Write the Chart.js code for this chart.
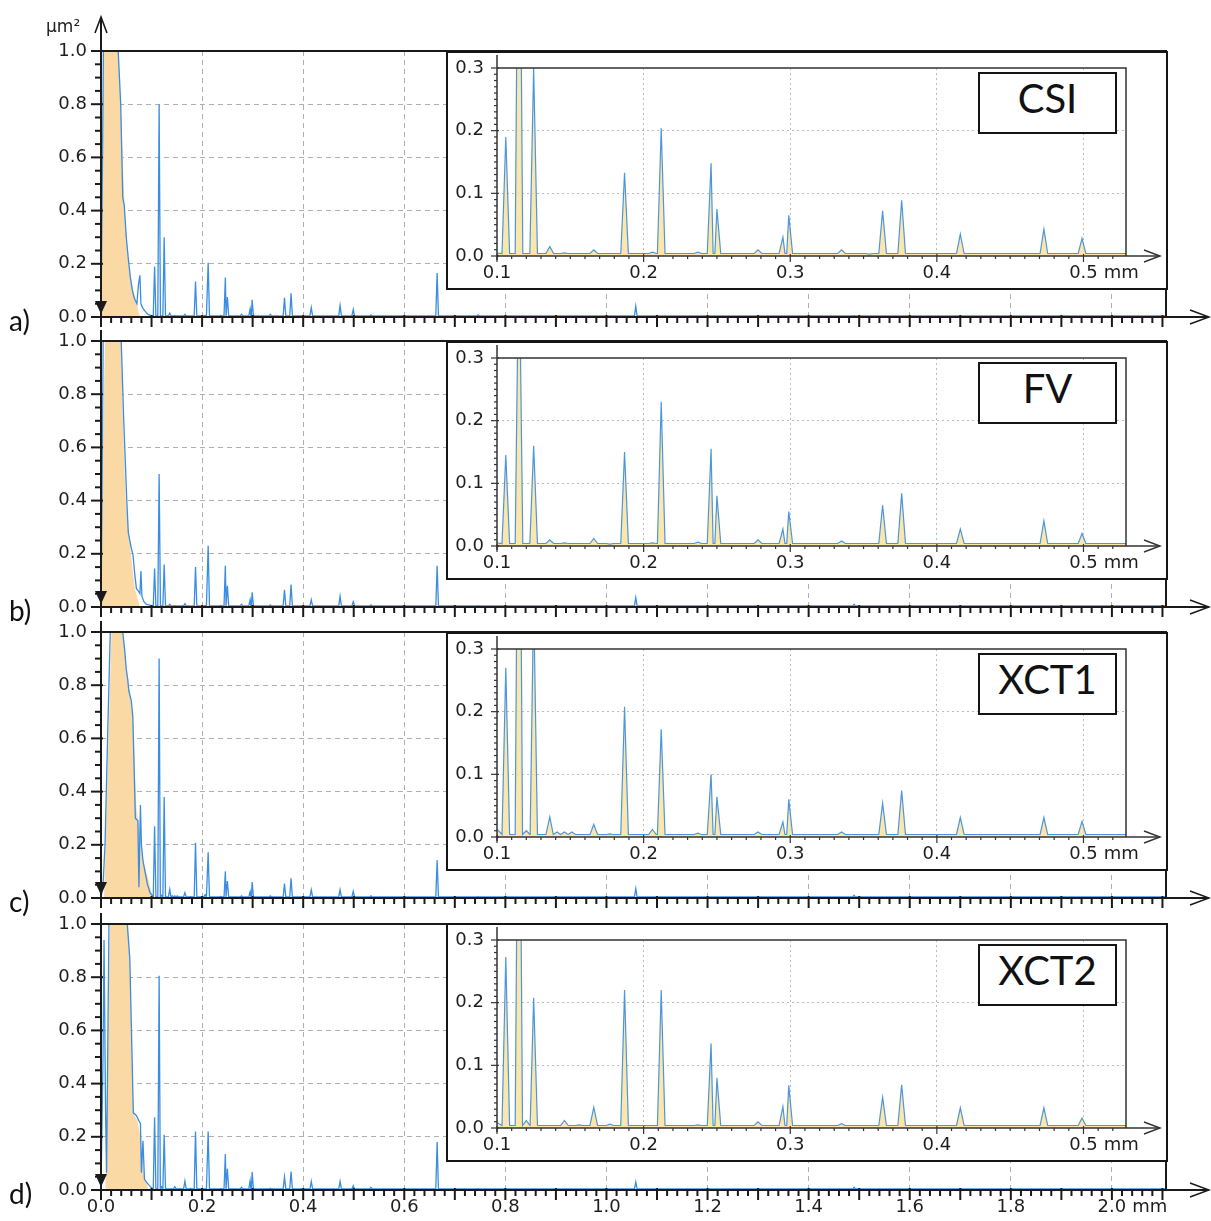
<!DOCTYPE html>
<html>
<head>
<meta charset="utf-8">
<script src="https://cdn.jsdelivr.net/npm/chart.js@4.4.0/dist/chart.umd.min.js"></script>
<style>
  body { margin: 0; background: #fff; width: 1211px; height: 1221px; position: relative; overflow: hidden; }
  .abs { position: absolute; }
  .inset { position: absolute; background: #fff; border: 2px solid #151515; box-sizing: border-box; width: 722px; height: 239px; }
  .inset canvas { display: block; }
  .tag { position: absolute; font: 28px Lato, sans-serif; color: #111; }
  .name { position: absolute; border: 2px solid #151515; background: #fff; box-sizing: border-box;
          width: 139px; height: 62px; line-height: 58px; text-align: center; font: 40px Lato, sans-serif; color: #111; }
  .unit { position: absolute; font: 17px "DejaVu Sans", sans-serif; color: #222; }
</style>
</head>
<body>
<script>
// spectrum peaks (mm) shared by all four measurements, heights in µm²
const peakPos = [0.106, 0.115, 0.120, 0.125, 0.136, 0.141, 0.146, 0.151, 0.156, 0.166, 0.177,
  0.187, 0.196, 0.206, 0.212, 0.237, 0.246, 0.250, 0.278, 0.295, 0.299, 0.335, 0.354, 0.363,
  0.376, 0.416, 0.473, 0.499, 0.534, 0.665, 0.746, 1.058, 1.490];

const csiPeaks = [0.19, 0.80, 0, 0.30, 0.015, 0, 0.005, 0, 0, 0.010, 0, 0.133, 0, 0.006, 0.204,
  0.006, 0.148, 0.075, 0.010, 0.030, 0.065, 0.010, 0.003, 0.072, 0.089, 0.035, 0.043, 0.028,
  0.008, 0.165, 0.008, 0.040, 0.005];
const fvPeaks = [0.145, 0.50, 0, 0.16, 0.010, 0, 0.005, 0, 0, 0.012, 0.003, 0.150, 0, 0.005, 0.230,
  0.006, 0.155, 0.080, 0.010, 0.027, 0.055, 0.008, 0, 0.065, 0.084, 0.027, 0.040, 0.020,
  0.008, 0.155, 0.005, 0.035, 0.010];
const xct1Peaks = [0.27, 0.90, 0.010, 0.38, 0.032, 0.008, 0.008, 0.008, 0, 0.020, 0.005, 0.208, 0,
  0.012, 0.172, 0.006, 0.100, 0.064, 0.008, 0.024, 0.060, 0.008, 0, 0.054, 0.074, 0.031, 0.031,
  0.025, 0.008, 0.143, 0.005, 0.035, 0.010];
const xct2Peaks = [0.273, 0.805, 0.012, 0.208, 0.004, 0, 0.012, 0, 0.005, 0.033, 0.006, 0.220,
  0.004, 0.004, 0.220, 0.005, 0.135, 0.080, 0.010, 0.034, 0.068, 0.007, 0, 0.049, 0.069, 0.032,
  0.032, 0.016, 0.010, 0.180, 0.005, 0.030, 0.010];

// long-wavelength part below 0.1 mm (blue trace)
const csiHumpX = [0, 0.003, 0.006, 0.020, 0.034, 0.039, 0.043, 0.046, 0.050, 0.054, 0.058, 0.062,
  0.066, 0.071, 0.074, 0.077, 0.079, 0.081, 0.084, 0.088, 0.093, 0.099];
const csiHumpY = [0, 0.6, 1.3, 1.6, 1.0, 0.80, 0.45, 0.42, 0.30, 0.22, 0.15, 0.10,
  0.07, 0.05, 0.12, 0.157, 0.05, 0.04, 0.03, 0.02, 0.01, 0.005];
const fvHumpX = [0, 0.002, 0.005, 0.020, 0.040, 0.045, 0.051, 0.054, 0.056, 0.060, 0.063, 0.067,
  0.070, 0.074, 0.077, 0.079, 0.081, 0.085, 0.090, 0.095, 0.099];
const fvHumpY = [0, 0.4, 1.2, 1.6, 1.0, 0.70, 0.40, 0.28, 0.26, 0.22, 0.20, 0.12,
  0.07, 0.06, 0.05, 0.135, 0.04, 0.02, 0.01, 0.008, 0.005];
const xct1HumpX = [0, 0.004, 0.008, 0.013, 0.019, 0.030, 0.043, 0.047, 0.050, 0.053, 0.055, 0.060,
  0.063, 0.068, 0.073, 0.075, 0.078, 0.080, 0.083, 0.088, 0.092, 0.097];
const xct1HumpY = [0, 0.05, 0.2, 0.6, 1.05, 1.5, 1.0, 0.93, 0.86, 0.82, 0.78, 0.74,
  0.68, 0.30, 0.29, 0.04, 0.35, 0.20, 0.14, 0.09, 0.05, 0.02];
const xct2HumpX = [0, 0.004, 0.006, 0.009, 0.011, 0.016, 0.030, 0.052, 0.057, 0.064, 0.070, 0.075,
  0.078, 0.080, 0.083, 0.086, 0.090, 0.094, 0.099];
const xct2HumpY = [0, 0.5, 0.94, 0.3, 0.065, 1.05, 1.5, 1.0, 0.87, 0.29, 0.28, 0.26,
  0.25, 0.065, 0.185, 0.04, 0.03, 0.02, 0.01];

// shaded envelope of the hump (orange area)
const csiFillX = [0, 0.003, 0.005, 0.034, 0.039, 0.047, 0.054, 0.064, 0.077];
const csiFillY = [0, 0.6, 1.02, 1.02, 0.80, 0.40, 0.20, 0.10, 0];
const fvFillX = [0, 0.003, 0.008, 0.040, 0.042, 0.045, 0.049, 0.059, 0.067, 0.077];
const fvFillY = [0, 0.5, 1.02, 1.02, 0.80, 0.60, 0.40, 0.20, 0.07, 0];
const xct1FillX = [0, 0.006, 0.021, 0.043, 0.050, 0.063, 0.070, 0.084, 0.103];
const xct1FillY = [0, 0, 1.02, 1.02, 0.86, 0.68, 0.34, 0.14, 0];
const xct2FillX = [0, 0.009, 0.011, 0.018, 0.052, 0.057, 0.064, 0.072, 0.078, 0.085, 0.094];
const xct2FillY = [0, 0, 0.3, 1.02, 1.02, 0.87, 0.29, 0.26, 0.20, 0.06, 0];

const floorLevel = 0.004;   // noise floor between peaks

const panelTags = ["a)", "b)", "c)", "d)"];
const panelNames = ["CSI", "FV", "XCT1", "XCT2"];
const mainXTicks = [0, 0.2, 0.4, 0.6, 0.8, 1.0, 1.2, 1.4, 1.6, 1.8, 2.0];
const mainYTicks = [0, 0.2, 0.4, 0.6, 0.8, 1.0];
const insetXTicks = [0.1, 0.2, 0.3, 0.4, 0.5];
const insetYTicks = [0, 0.1, 0.2, 0.3];

const X_MAX = 2.107, INSET_MIN = 0.1, INSET_MAX = 0.529, HALF = 0.0026;
const mainTops = [51, 341, 632, 924];
const insetTops = [51, 341, 632, 923];

const humps = [[csiHumpX, csiHumpY], [fvHumpX, fvHumpY], [xct1HumpX, xct1HumpY], [xct2HumpX, xct2HumpY]];
const fills = [[csiFillX, csiFillY], [fvFillX, fvFillY], [xct1FillX, xct1FillY], [xct2FillX, xct2FillY]];
const peaks = [csiPeaks, fvPeaks, xct1Peaks, xct2Peaks];

function buildSeries(hx, hy, heights) {
  const pts = hx.map((x, i) => ({ x, y: hy[i] }));
  peakPos.forEach((p, i) => {
    if (!heights[i]) return;
    pts.push({ x: p - HALF, y: floorLevel }, { x: p, y: heights[i] }, { x: p + HALF, y: floorLevel });
  });
  pts.push({ x: X_MAX, y: floorLevel });
  return pts.sort((a, b) => a.x - b.x);
}

const tickFont = { family: "DejaVu Sans", size: 18 };
const tickColor = "#1e1e1e";
const fmt = v => Number(v).toFixed(1);

// axes, arrows, frame and tick marks drawn through the chart scales
const deco = {
  id: "deco",
  afterDatasetsDraw(chart, args, o) {
    const { ctx, chartArea: a, scales: { x, y } } = chart;
    ctx.save();
    ctx.strokeStyle = o.color;
    ctx.fillStyle = o.color;

    ctx.lineWidth = o.frameWidth;
    ctx.beginPath();
    ctx.moveTo(a.left, a.top); ctx.lineTo(a.right, a.top); ctx.lineTo(a.right, a.bottom);
    ctx.stroke();

    ctx.lineWidth = o.axisWidth;
    ctx.beginPath();
    ctx.moveTo(a.left, a.bottom + 4); ctx.lineTo(a.left, o.axisTop);
    ctx.moveTo(a.left, a.bottom); ctx.lineTo(o.xEnd, a.bottom);
    ctx.stroke();

    ctx.lineWidth = o.arrowWidth;
    ctx.beginPath();
    ctx.moveTo(o.xEnd - o.arrowLen, a.bottom - o.arrowHalf);
    ctx.lineTo(o.xEnd, a.bottom);
    ctx.lineTo(o.xEnd - o.arrowLen, a.bottom + o.arrowHalf);
    if (o.arrowUp) {
      ctx.moveTo(a.left - 6, o.axisTop + 16);
      ctx.lineTo(a.left, o.axisTop);
      ctx.lineTo(a.left + 6, o.axisTop + 16);
    }
    ctx.stroke();

    if (o.marker) {
      ctx.beginPath();
      ctx.moveTo(a.left - 6, a.bottom - 16);
      ctx.lineTo(a.left + 6, a.bottom - 16);
      ctx.lineTo(a.left, a.bottom - 3);
      ctx.closePath();
      ctx.fill();
    }

    ctx.lineWidth = o.tickWidth;
    const ny = Math.round((y.max - y.min) / o.stepY);
    for (let i = 0; i <= ny; i++) {
      const py = y.getPixelForValue(y.min + i * o.stepY);
      const major = i % o.majorY === 0;
      ctx.beginPath();
      ctx.moveTo(a.left - (major ? o.majLen : o.minLen), py);
      ctx.lineTo(a.left + (major ? 2 : 0), py);
      ctx.stroke();
    }
    const nx = Math.floor((x.max - x.min) / o.stepX + 1e-6);
    for (let i = 0; i <= nx; i++) {
      const px = x.getPixelForValue(x.min + i * o.stepX);
      const major = i % o.majorX === 0;
      ctx.beginPath();
      ctx.moveTo(px, a.bottom - (major ? 2 : 0));
      ctx.lineTo(px, a.bottom + (major ? o.majLen : o.minLen));
      ctx.stroke();
    }

    if (o.unit) {
      const items = x.getLabelItems();
      const it = items[items.length - 1];
      if (it) {
        ctx.font = `${tickFont.size}px "${tickFont.family}"`;
        ctx.fillStyle = tickColor;
        ctx.textAlign = "left";
        ctx.textBaseline = it.options.textBaseline;
        const w = ctx.measureText(it.label).width;
        ctx.fillText(o.unit, it.options.translation[0] + w / 2 + 6, it.options.translation[1] + it.textOffset);
      }
    }
    ctx.restore();
  }
};

function gridColor(hidden, col) {
  return c => (c.tick && hidden.some(h => Math.abs(h - c.tick.value) < 1e-9)) ? "transparent" : col;
}
// keep tick-label overflow from pushing the plot area around
const noPadY = w => s => { s.width = w; s.paddingTop = 0; s.paddingBottom = 0; };
const noPadX = h => s => { s.height = h; s.paddingLeft = 0; s.paddingRight = 0; };

function add(tag, cls, style, text) {
  const e = document.createElement(tag);
  if (cls) e.className = cls;
  Object.assign(e.style, style || {});
  if (text) e.textContent = text;
  document.body.appendChild(e);
  return e;
}

panelTags.forEach((tag, i) => {
  const series = buildSeries(humps[i][0], humps[i][1], peaks[i]);
  const envelope = fills[i][0].map((x, k) => ({ x, y: fills[i][1][k] }));
  const last = i === 3;

  // main chart
  const wrap = add("div", "abs", { left: "0px", top: (mainTops[i] - 45) + "px", zIndex: 1 });
  const cv = document.createElement("canvas");
  cv.width = 1211; cv.height = 343;
  wrap.appendChild(cv);
  new Chart(cv, {
    type: "line",
    data: { datasets: [
      { data: series, borderColor: "#3a8de2", borderWidth: 1.3, fill: false, pointRadius: 0, tension: 0 },
      { data: envelope, borderWidth: 0, backgroundColor: "#fbd9a4", fill: "origin", pointRadius: 0, tension: 0 }
    ] },
    options: {
      responsive: false, animation: false, events: [],
      layout: { padding: { top: 45, right: 45, left: 0, bottom: 0 } },
      plugins: {
        legend: { display: false }, tooltip: { enabled: false },
        deco: { color: "#1a1a1a", frameWidth: 2, axisWidth: 2, arrowWidth: 1.6, arrowLen: 19, arrowHalf: 7,
          axisTop: i === 0 ? 11 : 34, arrowUp: i === 0, xEnd: 1209, marker: true,
          stepY: 0.05, majorY: 4, stepX: 0.02, majorX: 5, majLen: 10, minLen: 6, tickWidth: 2,
          unit: last ? "mm" : null }
      },
      scales: {
        x: { type: "linear", min: 0, max: X_MAX,
          afterBuildTicks: s => { s.ticks = mainXTicks.map(v => ({ value: v })); },
          afterFit: noPadX(32),
          ticks: { display: last, callback: fmt, font: tickFont, color: tickColor, padding: 7, maxRotation: 0, autoSkip: false },
          grid: { drawTicks: false, color: gridColor([0], "#b0b0b0") },
          border: { display: false, dash: [5, 4] } },
        y: { type: "linear", min: 0, max: 1,
          afterBuildTicks: s => { s.ticks = mainYTicks.map(v => ({ value: v })); },
          afterFit: noPadY(101),
          ticks: { callback: fmt, font: tickFont, color: tickColor, padding: 14 },
          grid: { drawTicks: false, color: gridColor([0, 1], "#b0b0b0") },
          border: { display: false, dash: [5, 4] } }
      }
    },
    plugins: [deco]
  });

  // inset
  const box = add("div", "inset", { left: "446px", top: insetTops[i] + "px", zIndex: 2 });
  const icv = document.createElement("canvas");
  icv.width = 718; icv.height = 235;
  box.appendChild(icv);
  new Chart(icv, {
    type: "line",
    data: { datasets: [{ data: series, borderColor: "rgba(58,140,222,0.9)", borderWidth: 1.2,
      backgroundColor: "rgba(250,224,150,0.8)", fill: "origin", pointRadius: 0, tension: 0 }] },
    options: {
      responsive: false, animation: false, events: [],
      layout: { padding: { top: 15, right: 40, left: 0, bottom: 0 } },
      plugins: {
        legend: { display: false }, tooltip: { enabled: false },
        deco: { color: "#333", frameWidth: 1.5, axisWidth: 1.5, arrowWidth: 1.4, arrowLen: 16, arrowHalf: 6,
          axisTop: 2, arrowUp: false, xEnd: 712, marker: false,
          stepY: 0.01, majorY: 10, stepX: 0.01, majorX: 10, majLen: 6, minLen: 3, tickWidth: 1.2,
          unit: "mm" }
      },
      scales: {
        x: { type: "linear", min: INSET_MIN, max: INSET_MAX,
          afterBuildTicks: s => { s.ticks = insetXTicks.map(v => ({ value: v })); },
          afterFit: noPadX(32),
          ticks: { callback: fmt, font: tickFont, color: tickColor, padding: 7, maxRotation: 0, autoSkip: false },
          grid: { drawTicks: false, color: gridColor([0.1], "#bdbdbd") },
          border: { display: false, dash: [2, 3] } },
        y: { type: "linear", min: 0, max: 0.3,
          afterBuildTicks: s => { s.ticks = insetYTicks.map(v => ({ value: v })); },
          afterFit: noPadY(49),
          ticks: { callback: fmt, font: tickFont, color: tickColor, padding: 13 },
          grid: { drawTicks: false, color: gridColor([0, 0.3], "#bdbdbd") },
          border: { display: false, dash: [2, 3] } }
      }
    },
    plugins: [deco]
  });

  add("div", "name", { left: "978px", top: (insetTops[i] + 21) + "px", zIndex: 3 }, panelNames[i]);
  add("div", "tag", { left: "9px", top: (mainTops[i] + 266 - 14) + "px", zIndex: 3 }, tag);
});

add("div", "unit", { left: "46px", top: "16px", zIndex: 3 }, "µm²");
</script>
</body>
</html>
